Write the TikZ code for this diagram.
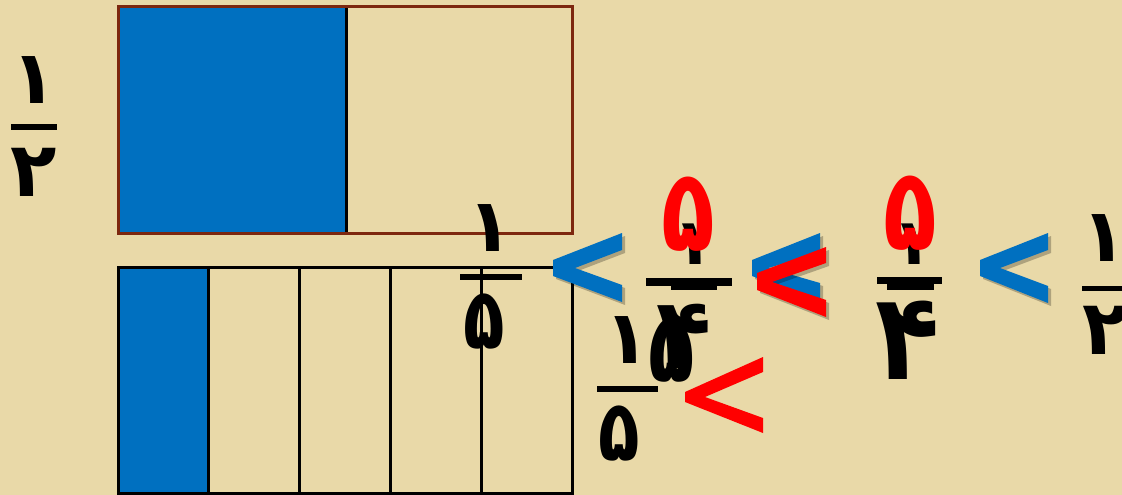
\documentclass[tikz,border=0pt]{standalone}
\usepackage{fontspec}
\newfontfamily\fa[Script=Arabic]{DejaVu Sans}
\definecolor{parch}{RGB}{233,217,168}
\definecolor{fillblue}{RGB}{0,112,192}
\definecolor{brownline}{RGB}{125,40,15}
\definecolor{redmark}{RGB}{255,0,0}
\newcommand{\tall}[2]{\scalebox{1}[#1]{#2}}
\begin{document}
\begin{tikzpicture}[x=1pt,y=-1pt,
  dig/.style={inner sep=0pt, font=\fa\bfseries\fontsize{#1}{#1}\selectfont},
  fbar/.style={line width=#1, draw=black},
  chevshadow/.style={fill=black, opacity=0.25}]
\useasboundingbox (0,0) rectangle (1122,495);
\fill[parch] (0,0) rectangle (1122,495);

% top rectangle (1/2)
\fill[fillblue] (118,7) rectangle (346,233);
\draw[line width=3pt] (346,7) -- (346,233);
\draw[brownline, line width=3pt] (118,7) rectangle (572,233);

% bottom rectangle (1/5)
\fill[fillblue] (118,267) rectangle (208,493);
\foreach \x in {208,299,390,481} \draw[line width=3pt] (\x,267) -- (\x,493);
\draw[line width=3pt] (118,267) rectangle (572,493);

% left fraction 1/2
\node[dig=74] (l1) at (34,80) {۱};
\draw[fbar=6pt] (11,127) -- (57,127);
\node[dig=76] (l2) at (34,172) {۲};

% fraction 1/5 in the bottom rectangle
\node[dig=74] (a1) at (490,228) {۱};
\draw[fbar=6pt] (460,277) -- (522,277);
\node[dig=68] (a5) at (484,322) {\tall{1.25}{۵}};

% blue chevron 1
\fill[chevshadow] (556,263) -- (625,236) -- (625,253) -- (578,271) -- (625,288) -- (625,305) -- (556,279) -- cycle;
\fill[fillblue] (553,260) -- (622,233) -- (622,250) -- (575,268) -- (622,285) -- (622,302) -- (553,276) -- cycle;

% overlapped fraction 5/4 and 1/5
\node[dig=64] (b1) at (693,244) {۱};
\node[dig=88, text=redmark] (b5) at (688,214) {\tall{1.3}{۵}};
\draw[fbar=8pt] (646,282) -- (732,282);
\draw[fbar=4pt] (671,288) -- (717,288);
\node[dig=76] (b5b) at (672,350) {\tall{1.3}{۵}};
\node[dig=90] (b4) at (684,336) {\tall{1.1}{۴}};

\node[dig=74] (c1) at (627,340) {۱};
\draw[fbar=6pt] (597,389) -- (658,389);
\node[dig=68] (c5) at (619,434) {\tall{1.25}{۵}};

% red chevron (thin)
\fill[redmark] (685,392) -- (763,357) -- (763,372) -- (705,397) -- (763,418) -- (763,433) -- (685,402) -- cycle;

% blue + red chevrons overlapped
\fill[chevshadow] (755,263) -- (823,236) -- (823,256) -- (771,271) -- (823,286) -- (823,306) -- (755,279) -- cycle;
\fill[fillblue] (752,260) -- (820,233) -- (820,253) -- (768,268) -- (820,283) -- (820,303) -- (752,276) -- cycle;
\fill[chevshadow] (760,276) -- (829,250) -- (829,266) -- (775,285) -- (829,303) -- (829,320) -- (760,293) -- cycle;
\fill[redmark] (757,273) -- (826,247) -- (826,263) -- (772,282) -- (826,300) -- (826,317) -- (757,290) -- cycle;

% fraction 5/4
\node[dig=64] (d1) at (912,244) {۱};
\node[dig=88, text=redmark] (d5) at (910,213) {\tall{1.3}{۵}};
\draw[fbar=7pt] (877,280) -- (942,280);
\draw[fbar=6pt] (887,287) -- (934,287);
\node[dig=105] (d4) at (908,340) {\tall{1.15}{۴}};

% blue chevron 3
\fill[chevshadow] (983,263) -- (1051,236) -- (1051,253) -- (1003,271) -- (1051,289) -- (1051,306) -- (983,279) -- cycle;
\fill[fillblue] (980,260) -- (1048,233) -- (1048,250) -- (1000,268) -- (1048,286) -- (1048,303) -- (980,276) -- cycle;

% right fraction 1/2
\node[dig=74] (e1) at (1104,238) {۱};
\draw[fbar=5pt] (1082,288) -- (1122,288);
\node[dig=76] (e2) at (1106,330) {۲};
\end{tikzpicture}
\end{document}
